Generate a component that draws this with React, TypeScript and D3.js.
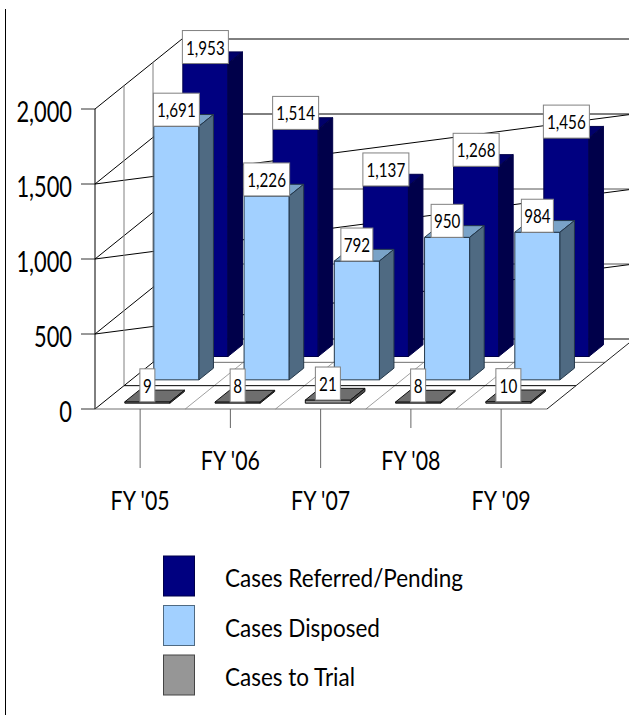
import React from "react";
import * as d3 from "d3";

const categories = ["FY '05", "FY '06", "FY '07", "FY '08", "FY '09"];
const referred = [1953, 1514, 1137, 1268, 1456];
const disposed = [1691, 1226, 792, 950, 984];
const trial = [9, 8, 21, 8, 10];
const yTicks = [0, 500, 1000, 1500, 2000];
const slantTicks = [500, 1000, 1500];
const seriesNames = ["Cases Referred/Pending", "Cases Disposed", "Cases to Trial"];

const W = 629, H = 715;
const y = d3.scaleLinear().domain([0, 2000]).range([409, 109]);
const x = d3.scaleBand<string>().domain(categories).range([95, 546.25]).paddingInner(0.5).paddingOuter(0.25);
const dx = d3.scaleLinear().domain([0, 3]).range([0, 87]);
const dy = d3.scaleLinear().domain([0, 3]).range([0, -70]);
const fmt = d3.format(",");

const P = (px: number, v: number, d: number): [number, number] => [px + dx(d), y(v) + dy(d)];
const poly = (pts: [number, number][]) => pts.map((p) => p.join(",")).join(" ");

const palettes = [
  { front: "#000080", top: "#00006a", side: "#00004a", stroke: "#00004a" },
  { front: "#a2d0ff", top: "#7aa3c8", side: "#4f6a82", stroke: "#24384a" },
  { front: "#969696", top: "#6e6e6e", side: "#4a4a4a", stroke: "#111111" },
];
const rows = [
  { values: referred, row: 2, p: palettes[0] },
  { values: disposed, row: 1, p: palettes[1] },
  { values: trial, row: 0, p: palettes[2] },
];

function T({ x: tx, y: ty, size, sx, anchor = "middle", children }: any) {
  return (
    <text
      transform={`translate(${tx},${ty}) scale(${sx},1)`}
      fontFamily="Lato"
      fontSize={size}
      textAnchor={anchor}
      fill="#000"
    >
      {children}
    </text>
  );
}

function Bar({ cat, value, row, p }: any) {
  const x0 = x(cat)!;
  const x1 = x0 + x.bandwidth();
  const d0 = row + 0.25, d1 = row + 0.75;
  const a = P(x0, 0, d0), b = P(x1, 0, d0), c = P(x1, value, d0), e = P(x0, value, d0);
  const f = P(x1, value, d1), g = P(x0, value, d1), h = P(x1, 0, d1);
  return (
    <g stroke={p.stroke} strokeWidth={1} strokeLinejoin="round">
      <polygon points={poly([a, b, c, e])} fill={p.front} />
      <polygon points={poly([e, c, f, g])} fill={p.top} />
      <polygon points={poly([b, h, f, c])} fill={p.side} />
    </g>
  );
}

function Label({ cat, value, row }: any) {
  const cx = x(cat)! + x.bandwidth() / 2 + dx(row + 0.25);
  const bottom = y(value) + dy(row + 0.25);
  const s = fmt(value);
  const w = s.length >= 5 ? 46 : s.length === 3 ? 32 : s.length === 2 ? 25 : 15;
  const h = 33;
  return (
    <g>
      <rect x={cx - w / 2} y={bottom - h} width={w} height={h} fill="#fff" stroke="#808080" strokeWidth={1} />
      <T x={cx} y={bottom - 9} size={19} sx={0.8}>{s}</T>
    </g>
  );
}

export default function App() {
  const left = 95, right = 547;
  const step = x.step();
  const floorX = d3.range(1, 5).map((i) => left + i * step);
  return (
    <svg width={W} height={H} style={{ position: "absolute", left: 0, top: 0, display: "block", background: "#fff" }}>
      <line x1={5.5} y1={9} x2={5.5} y2={H} stroke="#000" strokeWidth={1} />
      {/* floor */}
      <polygon points={poly([P(left, 0, 0), P(right, 0, 0), P(right, 0, 3), P(left, 0, 3)])} fill="#fff" stroke="none" />
      {floorX.map((fx) => (
        <line key={fx} x1={fx} y1={y(0)} x2={P(fx, 0, 3)[0]} y2={P(fx, 0, 3)[1]} stroke="#a0a0a0" />
      ))}
      {/* back wall and left wall */}
      {yTicks.map((t) => {
        const a = P(left, t, 3), b = P(right, t, 3), f = P(left, t, 0);
        return (
          <g key={t}>
            <line x1={a[0]} y1={a[1]} x2={b[0]} y2={b[1]} stroke={t === 1000 || t === 500 ? "#555" : "#000"} />
            <line x1={f[0]} y1={f[1]} x2={a[0]} y2={a[1]} stroke="#000" />
            <line x1={81} y1={f[1]} x2={f[0]} y2={f[1]} stroke="#333" />
          </g>
        );
      })}
      {slantTicks.map((t) => {
        const f = P(left, t, 0), b = P(right, t, 3);
        return <line key={t} x1={f[0]} y1={f[1]} x2={b[0]} y2={b[1]} stroke="#000" />;
      })}
      {[1, 2].map((d) => {
        const a = P(left, 0, d), b = P(left, 2000, d);
        return <line key={d} x1={a[0]} y1={a[1]} x2={b[0]} y2={b[1]} stroke="#808080" />;
      })}
      <line x1={left} y1={y(0)} x2={left} y2={y(2000)} stroke="#000" />
      {/* floor row lines */}
      <line x1={P(left, 0, 2)[0]} y1={P(left, 0, 2)[1]} x2={P(right, 0, 2)[0]} y2={P(right, 0, 2)[1]} stroke="#707070" />
      <line x1={P(left, 0, 1)[0]} y1={P(left, 0, 1)[1]} x2={P(right, 0, 1)[0]} y2={P(right, 0, 1)[1]} stroke="#000" />
      <line x1={left} y1={y(0)} x2={right} y2={y(0)} stroke="#707070" />
      <line x1={right} y1={y(0)} x2={P(right, 0, 3)[0]} y2={P(right, 0, 3)[1]} stroke="#222" />
      {/* bars back to front */}
      {rows.map((r) =>
        categories.map((c, i) => <Bar key={r.row + c} cat={c} value={r.values[i]} row={r.row} p={r.p} />)
      )}
      {/* category ticks */}
      {categories.map((c, i) => {
        const cx = x(c)! + x.bandwidth() / 2;
        const low = i % 2 === 0;
        return (
          <g key={c}>
            <line x1={cx} y1={y(0)} x2={cx} y2={low ? 468 : 428} stroke="#666" />
            <T x={cx} y={low ? 510 : 470} size={26} sx={0.82}>{c}</T>
          </g>
        );
      })}
      {yTicks.map((t) => (
        <T key={t} x={72} y={y(t) + 12.5} size={28} sx={0.78} anchor="end">{fmt(t)}</T>
      ))}
      {/* labels */}
      {rows.map((r) =>
        categories.map((c, i) => <Label key={"l" + r.row + c} cat={c} value={r.values[i]} row={r.row} />)
      )}
      {/* legend */}
      {seriesNames.map((n, i) => {
        const top = [556, 605.5, 655][i];
        return (
          <g key={n}>
            <rect x={163.5} y={top} width={31} height={40} fill={palettes[i].front} stroke={["#00004a", "#4f6a82", "#444"][i]} />
            <T x={225} y={top + 31} size={25} sx={0.9} anchor="start">{n}</T>
          </g>
        );
      })}
    </svg>
  );
}
